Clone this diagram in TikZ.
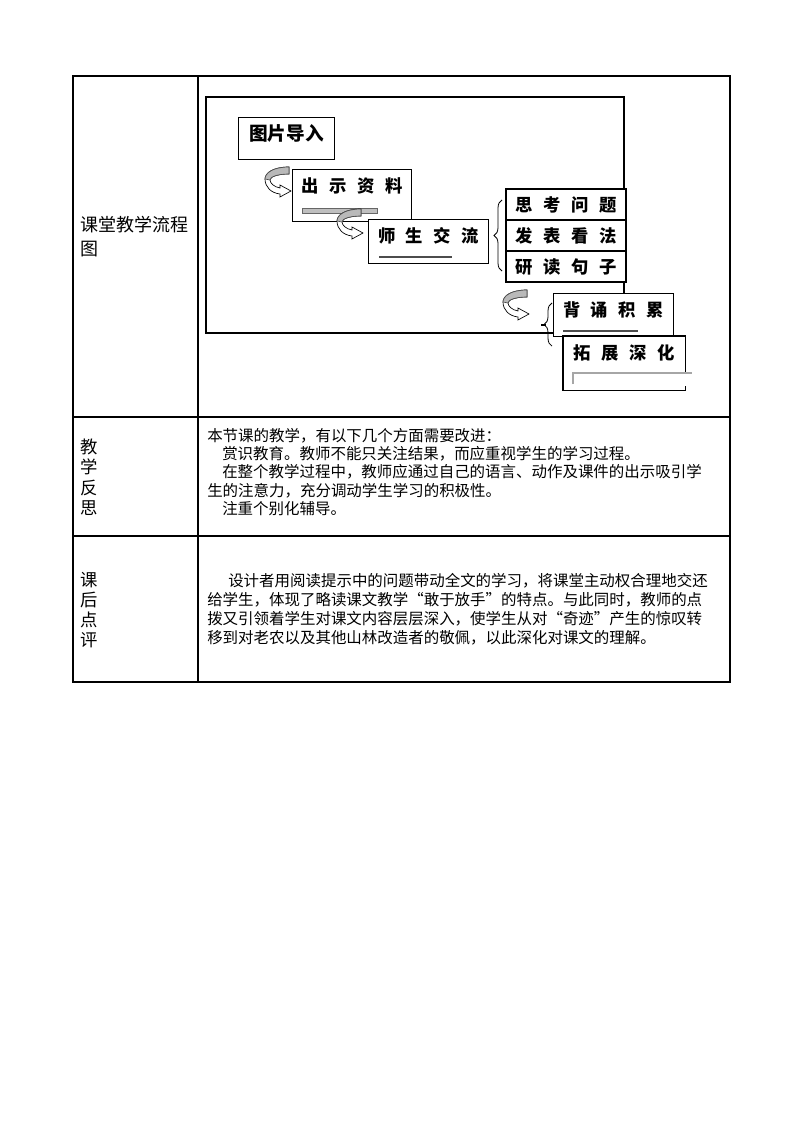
\documentclass[tikz,border=0pt]{standalone}
\usepackage{fontspec}
\setmainfont{Noto Sans CJK SC}
\usetikzlibrary{positioning,calc,decorations.pathreplacing}

\tikzset{
  turnarrow/.pic={
    \path[fill=white, draw=black, line width=0.5pt] (24,0) .. controls (8,0) and (0,6) .. (0,12) .. controls (0,20) and (6,26) .. (15,27) -- (15,30) -- (26,24) -- (15,18) -- (15,21) .. controls (9,20) and (5,16) .. (5,13) .. controls (5,10) and (12,7) .. (24,7) -- cycle;
    \path[fill=gray!55, draw=black!70, line width=0.5pt] (24,0) .. controls (8,0) and (0,6) .. (0,12) -- (5,13) .. controls (5,10) and (12,7) .. (24,7) -- cycle;
  }
}

\begin{document}
\begin{tikzpicture}[x=0.75pt,y=-0.75pt,
  flowbox/.style={draw, fill=white, line width=0.8pt, inner xsep=0pt, inner ysep=0pt, minimum width=90pt, text height=17pt, font={\bfseries\fontsize{13}{15}\selectfont\spaceskip=7.9pt\relax}},
  qbox/.style={draw, fill=white, line width=0.8pt, outer sep=0pt, inner sep=0pt, minimum width=90pt, minimum height=23.25pt, font={\bfseries\fontsize{13}{15}\selectfont\spaceskip=7.9pt\relax}},
  rowlabel/.style={inner sep=0pt, anchor=base west, font={\fontsize{13}{15}\selectfont}},
  bodytext/.style={inner sep=0pt, anchor=base west, font={\fontsize{11.6}{14}\selectfont}}]
\useasboundingbox (0,0) rectangle (794,1123);

% table
\draw[line width=0.8pt] (73,76) rectangle (730,682);
\draw[line width=0.8pt] (198,76) -- (198,682);
\draw[line width=0.8pt] (73,417) -- (730,417);
\draw[line width=0.8pt] (73,536) -- (730,536);

% left column
\node[rowlabel, font={\fontsize{13.5}{16}\selectfont}] (liucheng) at (80,232) {课堂教学流程};
\node[rowlabel, font={\fontsize{13.5}{16}\selectfont}] (liuchengtu) at (80,255) {图};
\foreach \ch/\yy [count=\i] in {教/453.5, 学/473.5, 反/494, 思/514}
  \node[rowlabel] (fansi\i) at (80,\yy) {\ch};
\foreach \ch/\yy [count=\i] in {课/586.5, 后/606.5, 点/626.5, 评/646.5}
  \node[rowlabel] (dianping\i) at (80,\yy) {\ch};

% flow chart
\draw[line width=0.8pt] (206,97) rectangle (624,333);
\node[flowbox, anchor=north west, minimum width=72pt, text height=17.3pt, text depth=14.2pt, font={\bfseries\fontsize{14}{16}\selectfont}] (tupian) at (238,117) {图片导入};
\node[flowbox, anchor=north west, minimum width=89.25pt, text depth=22pt] (chushi) at (292,169) {出 示 资 料};
\draw[fill=gray!50, draw=black!60, line width=0.5pt] ($(chushi.south west)+(10,-14)$) rectangle ($(chushi.south west)+(85,-9)$);
\node[flowbox, anchor=north west, text depth=16pt] (shisheng) at (368,219) {师 生 交 流};
\draw[gray!60!black, line width=1pt] ($(shisheng.south west)+(11,-7)$) -- ($(shisheng.south west)+(84,-7)$);
\node[qbox, anchor=north west] (sikao) at (506,189) {思 考 问 题};
\node[qbox, below=0pt of sikao] (fabiao) {发 表 看 法};
\node[qbox, below=0pt of fabiao] (yandu) {研 读 句 子};
\node[flowbox, anchor=north west, text depth=15.3pt] (beisong) at (553,293) {背 诵 积 累};
\draw[gray!60!black, line width=1pt] ($(beisong.south west)+(10,-6)$) -- ($(beisong.south west)+(85,-6)$);
\node[flowbox, draw=none, anchor=north west, minimum width=90.75pt, text depth=22.8pt] (tuozhan) at (563,336) {拓 展 深 化};
\draw[line width=0.8pt] ($(tuozhan.north east)+(0,36)$) -- (tuozhan.north east) -- (tuozhan.north west) -- (tuozhan.south west) -- (tuozhan.south east) -- ($(tuozhan.south east)+(0,-4)$);
\draw[gray!70, line width=1.3pt] ($(tuozhan.south west)+(10,-6)$) |- ($(tuozhan.south east)+(7,-17)$);

\pic at (265,167) {turnarrow};
\pic at (337,209) {turnarrow};
\pic at (503,290) {turnarrow};

\draw[decorate, decoration={brace, amplitude=6pt}, line width=0.6pt] ($(yandu.south west)+(-4,-11)$) -- ($(sikao.north west)+(-4,11)$);
\draw[decorate, decoration={brace, amplitude=6pt}, line width=0.6pt] ($(beisong.south west)+(-1,9)$) -- ($(beisong.north west)+(-1,10)$);
\draw[line width=1.2pt] ($(beisong.south west)+(-12,-12)$) -- ($(beisong.south west)+(-7,-12)$);

% text rows
\foreach \yy/\xx/\txt [count=\i] in {
  441/207/{本节课的教学，有以下几个方面需要改进：},
  459/222/{赏识教育。教师不能只关注结果，而应重视学生的学习过程。},
  477.5/222/{在整个教学过程中，教师应通过自己的语言、动作及课件的出示吸引学},
  496/207/{生的注意力，充分调动学生学习的积极性。},
  514/222/{注重个别化辅导。}}
  \node[bodytext] (fansitext\i) at (\xx,\yy) {\txt};
\foreach \yy/\xx/\txt [count=\i] in {
  586.7/228/{设计者用阅读提示中的问题带动全文的学习，将课堂主动权合理地交还},
  605.5/207/{给学生，体现了略读课文教学“敢于放手”的特点。与此同时，教师的点},
  624.3/207/{拨又引领着学生对课文内容层层深入，使学生从对“奇迹”产生的惊叹转},
  643/207/{移到对老农以及其他山林改造者的敬佩，以此深化对课文的理解。}}
  \node[bodytext] (dianpingtext\i) at (\xx,\yy) {\txt};
\end{tikzpicture}
\end{document}
